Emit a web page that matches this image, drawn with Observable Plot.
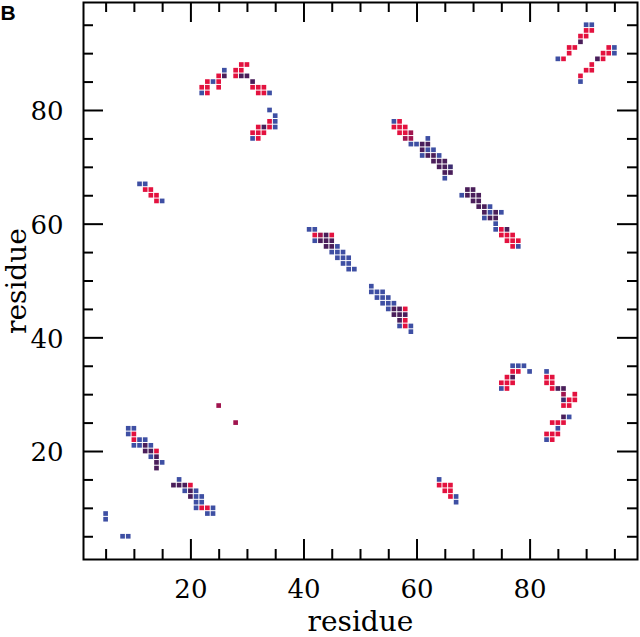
<!DOCTYPE html>
<html><head><meta charset="utf-8">
<script src="https://cdn.jsdelivr.net/npm/d3@7"></script>
<script src="https://cdn.jsdelivr.net/npm/@observablehq/plot@0.6"></script>
<style>body{margin:0;background:#fff}#chart{width:640px;height:637px}</style>
</head><body><div id="chart"></div>
<script>
// ---- data ----
const panelLabel = "B";
const xLabel = "residue";
const yLabel = "residue";
const majorTicks = [20, 40, 60, 80];
const minorTicks = [5, 10, 15, 25, 30, 35, 45, 50, 55, 65, 70, 75, 85, 90, 95];
// overlap kind: r = red only, rp = red-purple, p = both, bp = blue-purple, b = blue only
const kinds = ["r", "rp", "p", "bp", "b"];

// cells: [residue i, residue j, kind]
const isolated = [[5,9,"b"],[5,8,"b"],[8,5,"b"],[9,5,"b"],[25,28,"rp"],[28,25,"rp"]];
const strandLowA = [
  [9,24,"b"],[10,24,"b"],
  [9,23,"b"],[10,23,"r"],
  [10,22,"r"],[11,22,"b"],[12,22,"b"],
  [10,21,"b"],[11,21,"b"],[12,21,"p"],[13,21,"b"],
  [12,20,"p"],[13,20,"p"],[14,20,"r"],
  [13,19,"b"],[14,19,"p"],
  [14,18,"p"],[15,18,"b"],
  [14,17,"p"]
];
const strandLowB = [
  [18,15,"b"],
  [17,14,"p"],[18,14,"p"],[19,14,"p"],[20,14,"r"],
  [19,13,"b"],[20,13,"p"],[21,13,"b"],
  [20,12,"p"],[21,12,"b"],[22,12,"b"],
  [21,11,"b"],[22,11,"b"],
  [21,10,"b"],[22,10,"r"],[23,10,"r"],[24,10,"b"],
  [23,9,"b"],[24,9,"b"]
];
const clusterUpLeft = [
  [11,67,"b"],[12,67,"b"],[12,66,"r"],[13,66,"r"],[13,65,"r"],[14,65,"r"],[14,64,"r"],[15,64,"b"]
];
const arcUpLeft = [
  [29,88,"r"],[30,88,"r"],
  [26,87,"b"],[28,87,"r"],[29,87,"r"],
  [25,86,"r"],[26,86,"p"],[28,86,"r"],[29,86,"p"],[30,86,"p"],
  [23,85,"r"],[24,85,"b"],[25,85,"r"],[31,85,"p"],
  [22,84,"r"],[23,84,"r"],[25,84,"r"],[31,84,"r"],[32,84,"r"],[33,84,"r"],
  [22,83,"b"],[23,83,"r"],[32,83,"r"],[33,83,"r"],[34,83,"b"],
  [34,80,"b"],[35,79,"b"],[34,78,"r"],[35,78,"b"],
  [32,77,"r"],[33,77,"p"],[34,77,"r"],[35,77,"b"],
  [31,76,"r"],[32,76,"r"],[33,76,"r"],[31,75,"b"],[32,75,"r"]
];
const diagMidA = [
  [41,59,"b"],[42,59,"b"],
  [42,58,"r"],[43,58,"rp"],[44,58,"p"],[45,58,"r"],
  [42,57,"b"],[43,57,"p"],[44,57,"p"],[45,57,"p"],
  [44,56,"p"],[45,56,"p"],[46,56,"b"],
  [45,55,"b"],[46,55,"b"],[47,55,"b"],
  [46,54,"b"],[47,54,"b"],[48,54,"b"],
  [47,53,"b"],[48,53,"b"],
  [48,52,"b"],[49,52,"b"]
];
const diagMidB = [
  [52,49,"b"],
  [52,48,"b"],[53,48,"b"],[54,48,"b"],
  [53,47,"b"],[54,47,"b"],[55,47,"b"],
  [54,46,"b"],[55,46,"b"],[56,46,"b"],
  [55,45,"b"],[56,45,"p"],[57,45,"p"],[58,45,"r"],
  [56,44,"p"],[57,44,"p"],[58,44,"p"],
  [57,43,"p"],[58,43,"r"],
  [57,42,"b"],[58,42,"r"],[59,42,"b"],
  [59,41,"b"]
];
const diagUpA = [
  [56,78,"b"],[57,78,"r"],
  [56,77,"r"],[57,77,"r"],[58,77,"r"],
  [57,76,"r"],[58,76,"r"],[59,76,"rp"],
  [58,75,"rp"],[59,75,"rp"],[62,75,"b"],
  [59,74,"b"],[60,74,"b"],[61,74,"p"],[62,74,"p"],
  [61,73,"p"],[62,73,"b"],[63,73,"b"],
  [61,72,"b"],[62,72,"p"],[63,72,"p"],[64,72,"b"],
  [63,71,"p"],[64,71,"p"],[65,71,"p"],
  [64,70,"p"],[65,70,"p"],[66,70,"bp"],
  [65,69,"p"],[66,69,"p"],
  [65,68,"b"]
];
const diagUpB = [
  [69,66,"p"],[70,66,"p"],
  [68,65,"b"],[69,65,"p"],[70,65,"p"],[71,65,"p"],
  [70,64,"p"],[71,64,"p"],
  [71,63,"p"],[72,63,"p"],[73,63,"b"],
  [72,62,"p"],[73,62,"b"],[74,62,"p"],[75,62,"b"],
  [72,61,"b"],[73,61,"p"],[74,61,"p"],
  [74,60,"b"],
  [74,59,"b"],[75,59,"r"],[76,59,"p"],
  [75,58,"r"],[76,58,"r"],[77,58,"r"],
  [76,57,"r"],[77,57,"r"],[78,57,"r"],
  [77,56,"r"],[78,56,"b"]
];
const cornerUpRight = [
  [90,95,"b"],[91,95,"b"],[90,94,"r"],[91,94,"r"],[89,93,"r"],[90,93,"r"],[89,92,"p"],
  [87,91,"r"],[88,91,"r"],[87,90,"r"],[85,89,"b"],[86,89,"r"],
  [94,91,"r"],[95,91,"b"],[93,90,"r"],[94,90,"r"],[95,90,"b"],[92,89,"p"],[93,89,"r"],
  [91,88,"r"],[90,87,"r"],[91,87,"r"],[89,86,"r"],[89,85,"b"]
];
const arcLowRight = [
  [77,35,"b"],[78,35,"b"],[79,35,"b"],[77,34,"r"],[78,34,"r"],[80,34,"b"],
  [76,33,"r"],[77,33,"p"],[75,32,"r"],[76,32,"r"],[77,32,"r"],[75,31,"b"],[76,31,"r"],
  [83,34,"b"],[83,33,"r"],[84,33,"r"],[83,32,"r"],[84,32,"r"],
  [84,31,"r"],[85,31,"p"],[86,31,"p"],[86,30,"rp"],[88,30,"r"],
  [86,29,"bp"],[87,29,"r"],[88,29,"r"],[86,28,"r"],[87,28,"r"],
  [86,26,"p"],[87,26,"b"],[84,25,"r"],[85,25,"r"],[86,25,"r"],[85,24,"b"],
  [83,23,"r"],[84,23,"r"],[85,23,"r"],[83,22,"b"],[84,22,"r"]
];
const clusterLowRight = [
  [64,15,"b"],[64,14,"r"],[65,14,"r"],[66,14,"r"],[65,13,"r"],[66,13,"r"],[66,12,"r"],[67,12,"b"],[67,11,"b"]
];

const cells = [
  ...isolated, ...strandLowA, ...strandLowB, ...clusterUpLeft, ...arcUpLeft,
  ...diagMidA, ...diagMidB, ...diagUpA, ...diagUpB, ...cornerUpRight,
  ...arcLowRight, ...clusterLowRight
].map(([x, y, k]) => ({x, y, k}));

// ---- layout ----
const W = 640, H = 637, mL = 83, mR = 3, mT = 2, mB = 78;
const fw = W - mL - mR, fh = H - mT - mB;
const majorLen = 20, minorLen = 10;
const serif = "'DejaVu Serif', 'Liberation Serif', serif";

const tickOpts = {strokeWidth: 2, stroke: "black"};
const chart = Plot.plot({
  width: W, height: H,
  marginLeft: mL, marginRight: mR, marginTop: mT, marginBottom: mB,
  x: {domain: [1, 99], axis: null},
  y: {domain: [1, 99], axis: null},
  color: {type: "ordinal", domain: kinds, range: ["#e3123f", "#a0144e", "#4a1e5a", "#3c2c70", "#3e4fa3"]},
  style: {background: "white", fontFamily: serif, color: "black"},
  marks: [
    Plot.rect(cells, {x1: d => d.x - 0.5, x2: d => d.x + 0.5, y1: d => d.y - 0.5, y2: d => d.y + 0.5, fill: "k", inset: 0.5}),
    // bottom & top ticks
    Plot.tickX(majorTicks, {x: d => d, insetTop: fh - majorLen, ...tickOpts}),
    Plot.tickX(minorTicks, {x: d => d, insetTop: fh - minorLen, ...tickOpts}),
    Plot.tickX(majorTicks, {x: d => d, insetBottom: fh - majorLen, ...tickOpts}),
    Plot.tickX(minorTicks, {x: d => d, insetBottom: fh - minorLen, ...tickOpts}),
    // left & right ticks
    Plot.tickY(majorTicks, {y: d => d, insetRight: fw - majorLen, ...tickOpts}),
    Plot.tickY(minorTicks, {y: d => d, insetRight: fw - minorLen, ...tickOpts}),
    Plot.tickY(majorTicks, {y: d => d, insetLeft: fw - majorLen, ...tickOpts}),
    Plot.tickY(minorTicks, {y: d => d, insetLeft: fw - minorLen, ...tickOpts}),
    Plot.frame({stroke: "black", strokeWidth: 2}),
    Plot.axisX(majorTicks, {tickSize: 0, tickPadding: 20, fontSize: 26, label: null, fontFamily: serif}),
    Plot.axisY(majorTicks, {tickSize: 0, tickPadding: 20, fontSize: 26, label: null, fontFamily: serif, dy: 1.5}),
    Plot.text([xLabel], {frameAnchor: "bottom", dy: 71, textAnchor: "middle", lineAnchor: "bottom", fontSize: 28, fontFamily: serif, ariaLabel: "axis-title"}),
    Plot.text([yLabel], {frameAnchor: "left", dx: -58, rotate: -90, textAnchor: "middle", lineAnchor: "bottom", fontSize: 28, fontFamily: serif, ariaLabel: "axis-title"}),
    Plot.text([panelLabel], {frameAnchor: "top-left", dx: -mL, dy: 17, textAnchor: "start", lineAnchor: "bottom",
      fontSize: 21, fontWeight: "bold", fontFamily: "'Liberation Sans', Arial, sans-serif"})
  ]
});
d3.select(chart).selectAll('g[aria-label="axis-title"] text').attr("letter-spacing", "1.2px");
document.getElementById("chart").append(chart);
</script>
</body></html>
